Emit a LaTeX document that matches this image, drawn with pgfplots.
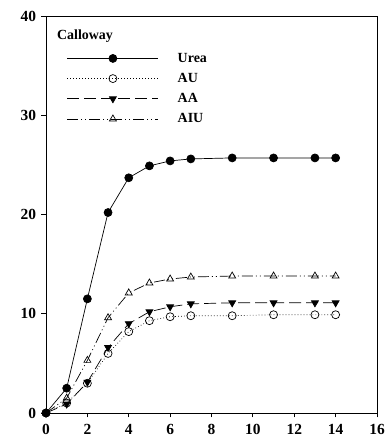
\documentclass[border=0pt]{standalone}
\usepackage{pgfplots}
\pgfplotsset{compat=1.18}
\usepackage{fontspec}
\setmainfont{Liberation Serif}
\begin{document}
\begin{tikzpicture}
\begin{axis}[
  at={(0,0)}, anchor=south west,
  scale only axis,
  width=331bp, height=397bp,
  xmin=0, xmax=16, ymin=0, ymax=40,
  xtick={0,2,...,16}, ytick={0,10,20,30,40},
  tick align=outside, tick pos=left,
  major tick length=4.5bp,
  axis line style={line width=0.8pt},
  tick style={line width=0.8pt, black},
  /pgf/number format/assume math mode=true,
  ticklabel style={font=\fontsize{15.5}{17}\selectfont\bfseries},
  xticklabel={\textbf{\pgfmathprintnumber{\tick}}},
  yticklabel={\textbf{\pgfmathprintnumber{\tick}}},
  yticklabel style={xshift=-2bp},
  xticklabel style={yshift=-3bp},
  clip=false,
  legend style={draw=none, fill=none, inner sep=0pt, at={(rel axis cs:0.063,0.912)}, anchor=north west,
    font=\fontsize{14}{16}\selectfont\bfseries, row sep=5.5bp, cells={anchor=west}},
  legend image code/.code={%
    \draw[#1] (0bp,0bp) -- (91bp,0bp);
    \draw[#1, solid] plot coordinates {(45.5bp,0bp)};
  },
  legend cell align=left,
  every axis plot/.append style={line width=0.7pt, mark size=4bp},
]
\node[anchor=west, inner sep=0pt, font=\fontsize{14}{16}\selectfont\bfseries] at (rel axis cs:0.033,0.95) {Calloway};
\addplot[black, solid, mark=*, mark options={fill=black}] coordinates {
(0,0) (1,2.5) (2,11.5) (3,20.2) (4,23.7) (5,24.9) (6,25.4) (7,25.6) (9,25.7) (11,25.7) (13,25.7) (14,25.7)};
\addlegendentry{\hspace{17bp}Urea}
\addplot[black, dash pattern=on 0.7pt off 2.3pt, mark=o, mark options={fill=white, solid}] coordinates {
(0,0) (1,1.0) (2,3.0) (3,6.0) (4,8.2) (5,9.3) (6,9.7) (7,9.8) (9,9.8) (11,9.9) (13,9.9) (14,9.9)};
\addlegendentry{\hspace{17bp}AU}
\addplot[black, dash pattern=on 12bp off 5bp, mark=triangle*, mark options={fill=black, solid, rotate=180}] coordinates {
(0,0) (1,0.9) (2,3.1) (3,6.6) (4,9.0) (5,10.2) (6,10.7) (7,11.0) (9,11.1) (11,11.1) (13,11.1) (14,11.1)};
\addlegendentry{\hspace{17bp}AA}
\addplot[black, dash pattern=on 11bp off 3bp on 1bp off 3bp on 1bp off 3bp, mark=triangle, mark options={fill=white, solid}] coordinates {
(0,0) (1,1.5) (2,5.3) (3,9.6) (4,12.1) (5,13.1) (6,13.5) (7,13.7) (9,13.8) (11,13.8) (13,13.8) (14,13.8)};
\addlegendentry{\hspace{17bp}AIU}
\end{axis}
\path (-46bp,-33bp) rectangle (339bp,413bp);
\end{tikzpicture}
\end{document}
